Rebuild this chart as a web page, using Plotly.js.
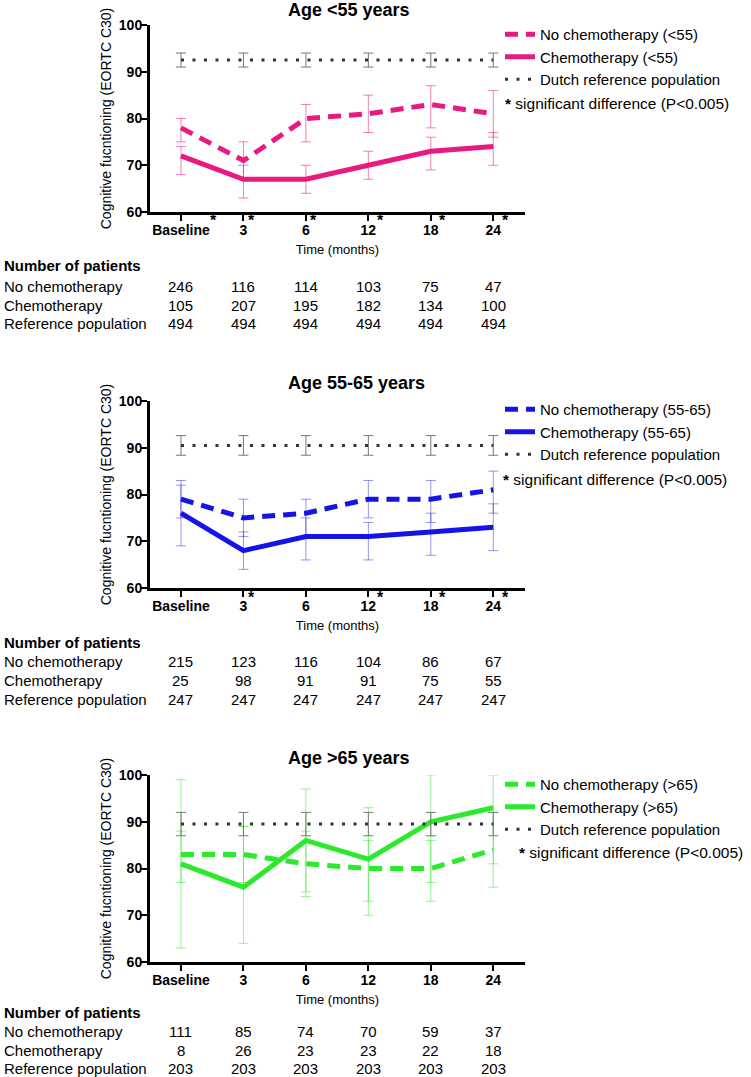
<!DOCTYPE html>
<html>
<head>
<meta charset="utf-8">
<script src="https://cdn.plot.ly/plotly-3.0.1.min.js"></script>
<style>html,body{margin:0;padding:0;background:#fff;}#chart{width:751px;height:1077px;}</style>
</head>
<body>
<div id="chart"></div>
<script>
// ---------------- DATA ----------------
const categories = ['Baseline', '3', '6', '12', '18', '24'];

// Age <55
const noChemoU55 = [78, 71, 80, 81, 83, 81];
const noChemoU55Lo = [75, 67, 75, 77, 78, 76];
const noChemoU55Hi = [80, 75, 83, 85, 87, 86];
const chemoU55 = [72, 67, 67, 70, 73, 74];
const chemoU55Lo = [68, 63, 64, 67, 69, 70];
const chemoU55Hi = [74, 70, 70, 73, 76, 77];
const refU55 = [92.5, 92.5, 92.5, 92.5, 92.5, 92.5];
const refU55Lo = [91, 91, 91, 91, 91, 91];
const refU55Hi = [94, 94, 94, 94, 94, 94];
const sigU55 = ['Baseline', '3', '6', '12', '18', '24'];
const nNoChemoU55 = [246, 116, 114, 103, 75, 47];
const nChemoU55 = [105, 207, 195, 182, 134, 100];
const nRefU55 = [494, 494, 494, 494, 494, 494];

// Age 55-65
const noChemoMid = [79, 75, 76, 79, 79, 81];
const noChemoMidLo = [75, 71, 71, 75, 74, 76];
const noChemoMidHi = [83, 79, 79, 83, 83, 85];
const chemoMid = [76, 68, 71, 71, 72, 73];
const chemoMidLo = [69, 64, 66, 66, 67, 68];
const chemoMidHi = [82, 72, 75, 74, 76, 78];
const refMid = [90.5, 90.5, 90.5, 90.5, 90.5, 90.5];
const refMidLo = [88.4, 88.4, 88.4, 88.4, 88.4, 88.4];
const refMidHi = [92.6, 92.6, 92.6, 92.6, 92.6, 92.6];
const sigMid = ['3', '12', '18', '24'];
const nNoChemoMid = [215, 123, 116, 104, 86, 67];
const nChemoMid = [25, 98, 91, 91, 75, 55];
const nRefMid = [247, 247, 247, 247, 247, 247];

// Age >65
const noChemoO65 = [83, 83, 81, 80, 80, 84];
const noChemoO65Lo = [77, 77, 74, 73, 73, 76];
const noChemoO65Hi = [88, 89, 88, 86, 86, 92];
const chemoO65 = [81, 76, 86, 82, 90, 93];
const chemoO65Lo = [63, 64, 75, 70, 77, 81];
const chemoO65Hi = [99, 89, 97, 93, 100, 100];
const refO65 = [89.5, 89.5, 89.5, 89.5, 89.5, 89.5];
const refO65Lo = [87, 87, 87, 87, 87, 87];
const refO65Hi = [92, 92, 92, 92, 92, 92];
const sigO65 = [];
const nNoChemoO65 = [111, 85, 74, 70, 59, 37];
const nChemoO65 = [8, 26, 23, 23, 22, 18];
const nRefO65 = [203, 203, 203, 203, 203, 203];

const panelTitles = ['Age &lt;55 years', 'Age 55-65 years', 'Age &gt;65 years'];
const groupSuffix = ['(&lt;55)', '(55-65)', '(&gt;65)'];
const rowLabels = ['No chemotherapy', 'Chemotherapy', 'Reference population'];
const yTickVals = [60, 70, 80, 90, 100];

// ---------------- STYLE / LAYOUT ----------------
const W = 751, H = 1077;
const FONT = 'Arial, "Liberation Sans", Helvetica, sans-serif';
const py = p => 1 - p / H;

const styles = [
  {line: '#E8197F', err: 'rgba(232,25,127,0.55)'},
  {line: '#1414E6', err: 'rgba(20,20,230,0.45)'},
  {line: '#2BEA2B', err: 'rgba(43,234,43,0.5)'}
];
const refStyle = {line: '#333333', err: '#777777'};

const panels = [
  {top: 25, bottom: 212, titleY: 10, legendTop: 18, sigY: 103, sigX: 503, tableY: [265, 286, 305, 323],
   series: [[noChemoU55, noChemoU55Lo, noChemoU55Hi], [chemoU55, chemoU55Lo, chemoU55Hi], [refU55, refU55Lo, refU55Hi]],
   counts: [nNoChemoU55, nChemoU55, nRefU55], sig: sigU55},
  {top: 401, bottom: 588, titleY: 383, legendTop: 393, sigY: 479, sigX: 501, tableY: [642, 661, 680, 699],
   series: [[noChemoMid, noChemoMidLo, noChemoMidHi], [chemoMid, chemoMidLo, chemoMidHi], [refMid, refMidLo, refMidHi]],
   counts: [nNoChemoMid, nChemoMid, nRefMid], sig: sigMid},
  {top: 775, bottom: 962, titleY: 758, legendTop: 768, sigY: 852, sigX: 517, tableY: [1012, 1031, 1050, 1068],
   series: [[noChemoO65, noChemoO65Lo, noChemoO65Hi], [chemoO65, chemoO65Lo, chemoO65Hi], [refO65, refO65Lo, refO65Hi]],
   counts: [nNoChemoO65, nChemoO65, nRefO65], sig: sigO65}
];

// measure tick label widths for the significance stars
const cvs = document.createElement('canvas').getContext('2d');
cvs.font = 'bold 14px ' + FONT;
const halfW = lbl => cvs.measureText(lbl).width / 2;

const traces = [];
const annotations = [];
const layout = {
  width: W, height: H,
  margin: {l: 0, r: 0, t: 0, b: 0},
  paper_bgcolor: '#ffffff', plot_bgcolor: '#ffffff',
  font: {family: FONT, color: '#000000'},
  showlegend: true,
  annotations: annotations
};

panels.forEach((p, k) => {
  const xa = 'x' + (k ? k + 1 : ''), ya = 'y' + (k ? k + 1 : '');
  const xKey = 'xaxis' + (k ? k + 1 : ''), yKey = 'yaxis' + (k ? k + 1 : '');
  const legKey = 'legend' + (k ? k + 1 : '');
  const names = ['No chemotherapy ' + groupSuffix[k], 'Chemotherapy ' + groupSuffix[k], 'Dutch reference population'];
  const lineStyles = [
    {color: styles[k].line, width: 5, dash: '13px,8px'},
    {color: styles[k].line, width: 5, dash: 'solid'},
    {color: refStyle.line, width: 3, dash: '3px,8.5px'}
  ];
  const errColors = [styles[k].err, styles[k].err, refStyle.err];
  p.series.forEach((s, i) => {
    const [m, lo, hi] = s;
    traces.push({
      type: 'scatter', mode: 'lines', x: categories, y: m,
      xaxis: xa, yaxis: ya, legend: legKey, name: names[i],
      line: lineStyles[i],
      error_y: {type: 'data', symmetric: false,
        array: hi.map((h, j) => h - m[j]), arrayminus: m.map((v, j) => v - lo[j]),
        color: errColors[i], thickness: 1, width: 5},
      hoverinfo: 'skip'
    });
  });
  layout[xKey] = {
    type: 'category', categoryarray: categories, domain: [150 / W, 525 / W], anchor: ya,
    range: [-0.496, 5.508], showline: true, linewidth: 3, linecolor: '#000',
    ticks: 'outside', ticklen: 6, tickwidth: 2, tickcolor: '#000', ticklabelstandoff: -3,
    tickfont: {family: FONT, size: 14, weight: 'bold', color: '#000'},
    showgrid: false, zeroline: false, fixedrange: true,
    title: {text: 'Time (months)', font: {family: FONT, size: 13, color: '#000'}, standoff: 9}
  };
  layout[yKey] = {
    domain: [py(p.bottom), py(p.top)], anchor: xa, range: [60, 100],
    tickvals: yTickVals, showline: true, linewidth: 3, linecolor: '#000',
    ticks: 'outside', ticklen: 6, tickwidth: 2, tickcolor: '#000', ticklabelstandoff: -4,
    tickfont: {family: FONT, size: 14, weight: 'bold', color: '#000'},
    showgrid: false, zeroline: false, fixedrange: true,
    title: {text: 'Cognitive fucntioning (EORTC C30)', font: {family: FONT, size: 14, color: '#000'}, standoff: 4}
  };
  layout[legKey] = {
    x: 500 / W, y: py(p.legendTop), xanchor: 'left', yanchor: 'top',
    bgcolor: 'rgba(0,0,0,0)', font: {family: FONT, size: 15, color: '#000'},
    tracegroupgap: 0, itemwidth: 30
  };
  // panel title
  annotations.push({xref: 'paper', yref: 'paper', x: 286 / W, y: py(p.titleY), xanchor: 'left', yanchor: 'middle',
    text: '<b>' + panelTitles[k] + '</b>', showarrow: false, font: {family: FONT, size: 18, color: '#000'}});
  // significance note
  annotations.push({xref: 'paper', yref: 'paper', x: p.sigX / W, y: py(p.sigY), xanchor: 'left', yanchor: 'middle',
    text: '<b>*</b> significant difference (P&lt;0.005)', showarrow: false, font: {family: FONT, size: 15.5, color: '#000'}});
  // stars on tick labels
  p.sig.forEach(c => {
    annotations.push({xref: xa, yref: 'paper', x: categories.indexOf(c), y: py(p.bottom + 9), xanchor: 'center', yanchor: 'middle',
      xshift: halfW(c) + 4, text: '<b>*</b>', showarrow: false, font: {family: FONT, size: 16, color: '#000'}});
  });
  // number of patients table
  annotations.push({xref: 'paper', yref: 'paper', x: 2 / W, y: py(p.tableY[0]), xanchor: 'left', yanchor: 'middle',
    text: '<b>Number of patients</b>', showarrow: false, font: {family: FONT, size: 15, color: '#000'}});
  rowLabels.forEach((lbl, r) => {
    annotations.push({xref: 'paper', yref: 'paper', x: 2 / W, y: py(p.tableY[r + 1]), xanchor: 'left', yanchor: 'middle',
      text: lbl, showarrow: false, font: {family: FONT, size: 15, color: '#000'}});
    p.counts[r].forEach((n, j) => {
      annotations.push({xref: xa, yref: 'paper', x: j, y: py(p.tableY[r + 1]), xanchor: 'center', yanchor: 'middle',
        text: String(n), showarrow: false, font: {family: FONT, size: 15, color: '#000'}});
    });
  });
});

Plotly.newPlot('chart', traces, layout, {staticPlot: true, displayModeBar: false});
</script>
</body>
</html>
